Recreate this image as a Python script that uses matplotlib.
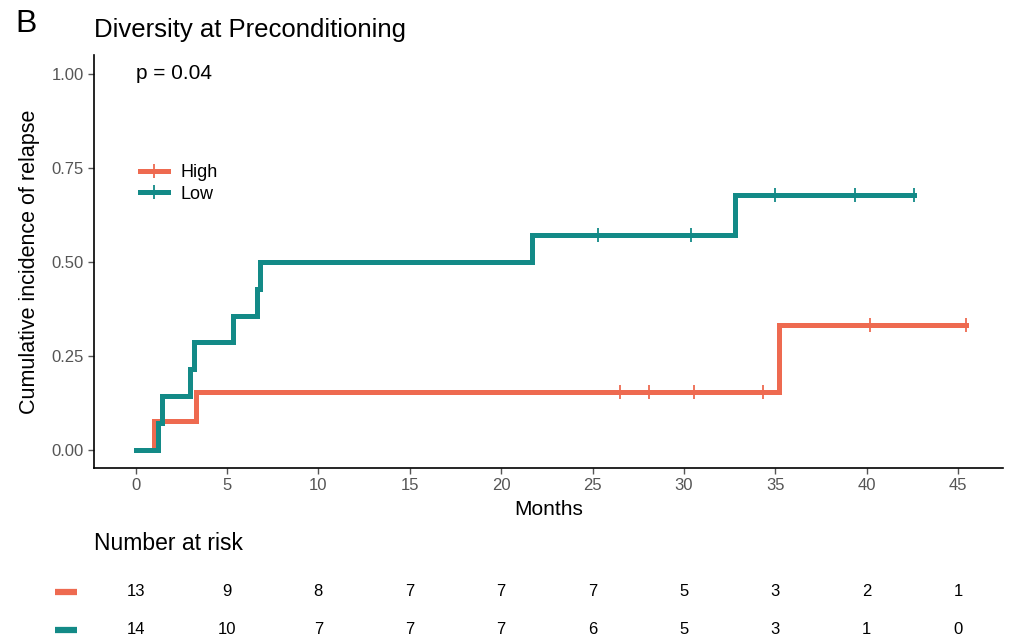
import numpy as np
import matplotlib
matplotlib.use("Agg")
import matplotlib.pyplot as plt
from matplotlib.lines import Line2D

plt.rcParams["font.family"] = ["Liberation Sans", "DejaVu Sans"]

# cumulative incidence curves
high_times = [0, 1.03, 3.31, 35.2]
high_cif = [0, 0.077, 0.154, 0.333]
high_end = 45.4
high_censor = [26.5, 28.1, 30.55, 34.3, 40.2, 45.4]

low_times = [0, 1.23, 1.43, 2.98, 3.2, 5.32, 6.63, 6.81, 21.7, 32.8]
low_cif = [0, 0.071, 0.143, 0.214, 0.286, 0.357, 0.429, 0.500, 0.571, 0.679]
low_end = 42.6
low_censor = [25.3, 30.4, 34.97, 39.35, 42.6]

risk_times = [0, 5, 10, 15, 20, 25, 30, 35, 40, 45]
risk_high = [13, 9, 8, 7, 7, 7, 5, 3, 2, 1]
risk_low = [14, 10, 7, 7, 7, 6, 5, 3, 1, 0]

col_high = "#EE6A50"
col_low = "#138A87"
grey = "#555555"

fig = plt.figure(figsize=(10.1, 6.42), dpi=100)
ax = fig.add_axes([94 / 1010, 174 / 642, 909 / 1010, 413 / 642])


def draw_curve(times, cif, end, censor, color):
    t = list(times) + [end]
    v = list(cif) + [cif[-1]]
    ax.step(t, v, where="post", color=color, lw=3.6, solid_joinstyle="miter")
    idx = np.searchsorted(times, censor, side="right") - 1
    ax.plot(censor, np.array(cif)[idx], ls="none", marker="|", ms=10,
            mew=1.3, color=color)


draw_curve(high_times, high_cif, high_end, high_censor, col_high)
draw_curve(low_times, low_cif, low_end, low_censor, col_low)

ax.set_xlim(-2.27, 47.45)
ax.set_ylim(-0.048, 1.05)
ax.set_xticks(risk_times)
ax.set_yticks([0, 0.25, 0.5, 0.75, 1.0])
ax.set_yticklabels(["0.00", "0.25", "0.50", "0.75", "1.00"])
ax.tick_params(colors=grey, labelsize=12, length=4, width=1)
for s in ["top", "right"]:
    ax.spines[s].set_visible(False)
for s in ["left", "bottom"]:
    ax.spines[s].set_linewidth(1.2)
    ax.spines[s].set_color("black")
ax.set_xlabel("Months", fontsize=15, labelpad=5)
ax.set_ylabel("Cumulative incidence of relapse", fontsize=15.5, labelpad=8)

ax.text(0, 1.0, "p = 0.04", fontsize=15, va="center", ha="left")

handles = [Line2D([], [], color=col_high, lw=3.6, marker="|", ms=10, mew=1.3),
           Line2D([], [], color=col_low, lw=3.6, marker="|", ms=10, mew=1.3)]
ax.legend(handles, ["High", "Low"], loc="upper left",
          bbox_to_anchor=(0.033, 0.775), frameon=False, fontsize=13,
          handlelength=1.55, handletextpad=0.7, labelspacing=0.25)

fig.text(94 / 1010, 1 - 30 / 642, "Diversity at Preconditioning",
         fontsize=18.5, va="center", ha="left")
fig.text(15 / 1010, 1 - 24 / 642, "B", fontsize=23, va="center", ha="left")

# number at risk table
fig.text(94 / 1010, 1 - 543 / 642, "Number at risk", fontsize=16.5,
         va="center", ha="left")
ax2 = fig.add_axes([94 / 1010, 0, 909 / 1010, 80 / 642])
ax2.set_xlim(ax.get_xlim())
ax2.set_ylim(0, 1)
ax2.axis("off")
row_y = [0.625, 0.15]
for y, counts, c in zip(row_y, [risk_high, risk_low], [col_high, col_low]):
    for t, n in zip(risk_times, counts):
        ax2.text(t, y, str(n), ha="center", va="center", fontsize=12)
    ax2.plot([-4.4, -3.2], [y, y], color=c, lw=4.5, solid_capstyle="butt",
             clip_on=False)

fig.savefig("out.png", dpi=100)
